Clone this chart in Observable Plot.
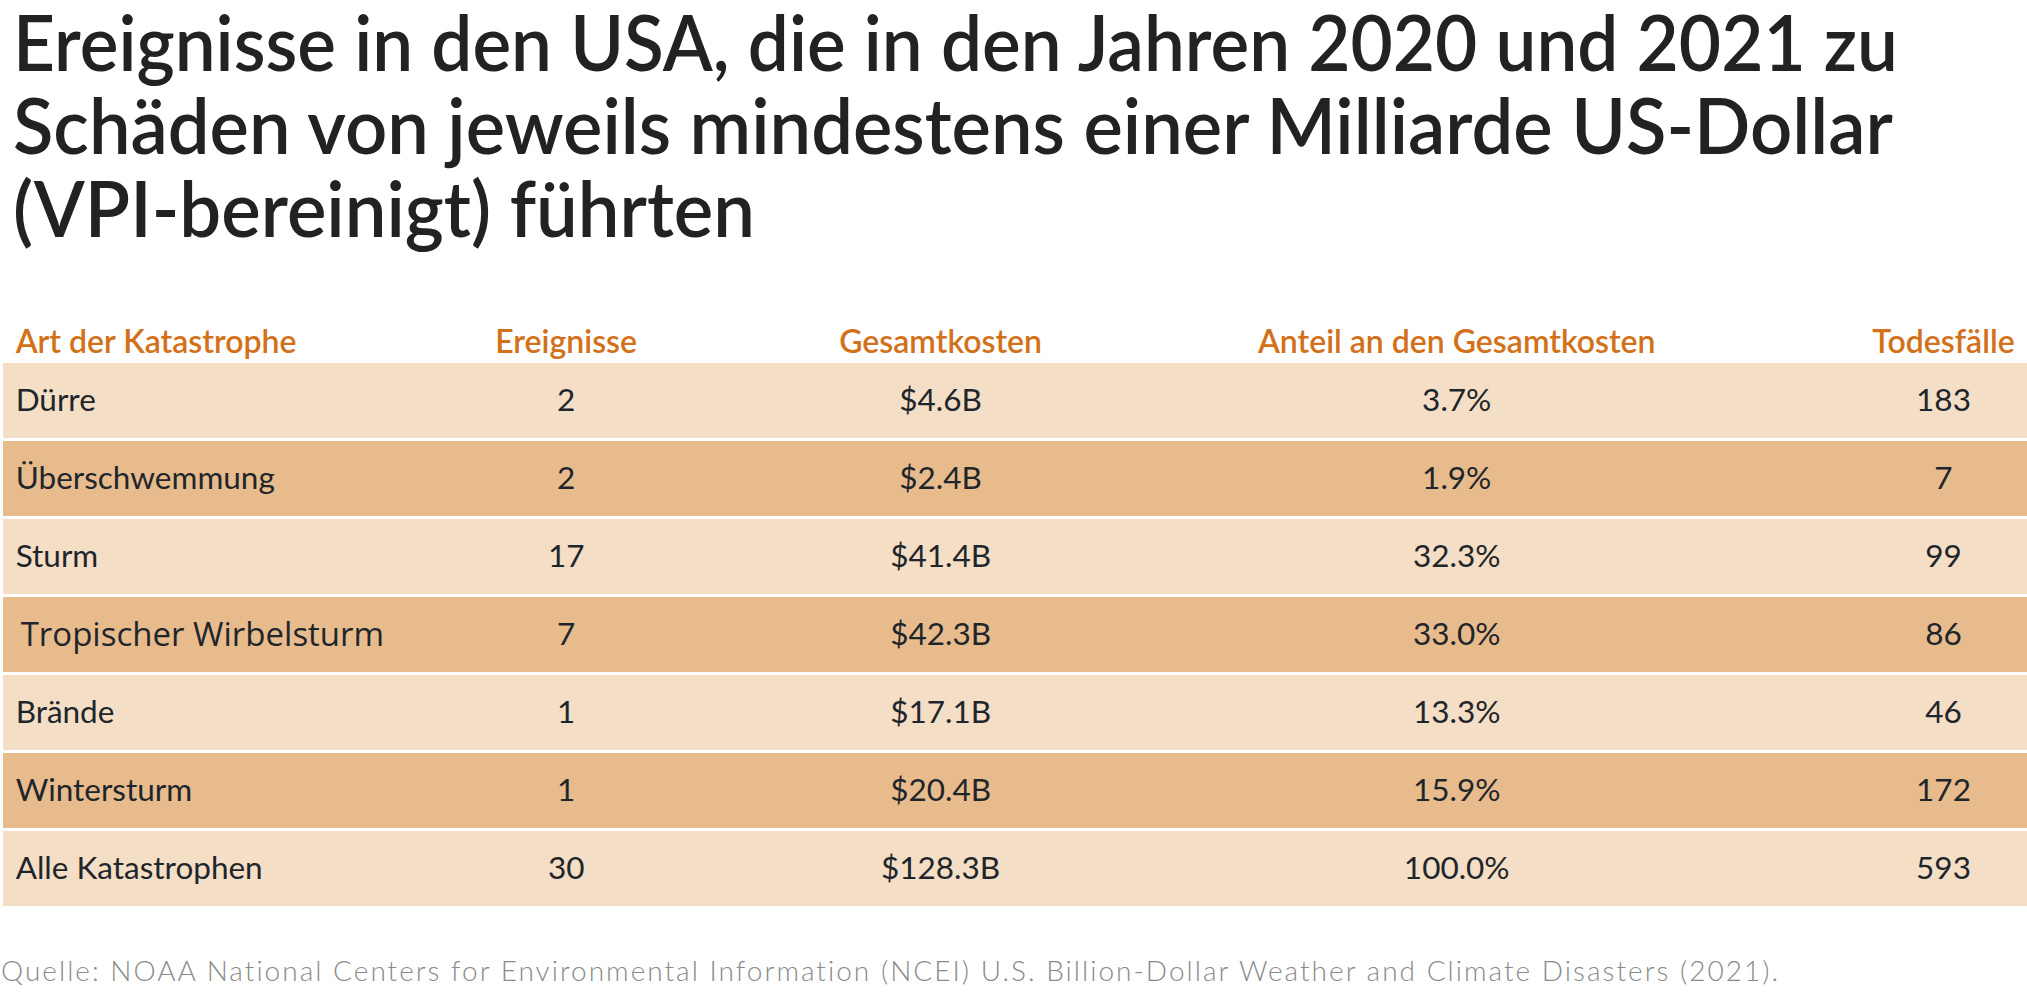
<!DOCTYPE html>
<html>
<head>
<meta charset="utf-8">
<script src="https://cdn.jsdelivr.net/npm/d3@7"></script>
<script src="https://cdn.jsdelivr.net/npm/@observablehq/plot@0.6"></script>
<style>
  html, body { margin: 0; padding: 0; background: #fff; width: 2027px; height: 994px; overflow: hidden; }
  #title { position: absolute; left: 13px; top: 0px; font-family: Lato, sans-serif; font-weight: 600;
           font-size: 76px; line-height: 83px; color: #222; }
  #title span { display: block; white-space: nowrap; width: max-content; transform-origin: 0 0; }
  #chart { position: absolute; left: 0; top: 300px; }
  #caption { position: absolute; left: 1px; top: 956px; font-family: Lato, sans-serif; font-weight: 300;
             font-size: 28px; line-height: 28px; color: #8a8a8a; white-space: nowrap; }
  g[aria-label="header"] text { letter-spacing: 1.3px; }
</style>
</head>
<body>
<div id="title">
  <span data-w="1885">Ereignisse in den USA, die in den Jahren 2020 und 2021 zu</span>
  <span data-w="1880">Schäden von jeweils mindestens einer Milliarde US-Dollar</span>
  <span data-w="742">(VPI-bereinigt) führten</span>
</div>
<div id="chart"></div>
<div id="caption" data-w="1780">Quelle: NOAA National Centers for Environmental Information (NCEI) U.S. Billion-Dollar Weather and Climate Disasters (2021).</div>
<script>
// ---- data ----
const headers = ["Art der Katastrophe", "Ereignisse", "Gesamtkosten", "Anteil an den Gesamtkosten", "Todesfälle"];
const categories = ["Dürre", "Überschwemmung", "Sturm", "Tropischer Wirbelsturm", "Brände", "Wintersturm", "Alle Katastrophen"];
const events = [2, 2, 17, 7, 1, 1, 30];
const costsB = [4.6, 2.4, 41.4, 42.3, 17.1, 20.4, 128.3];
const shares = [3.7, 1.9, 32.3, 33.0, 13.3, 15.9, 100.0];
const deaths = [183, 7, 99, 86, 46, 172, 593];

// ---- layout (column anchors in % of table width) ----
const colPos = [0.6, 27.8, 46.3, 71.8, 95.85];
const light = "#f4dec5", dark = "#e8bb8d", orange = "#d2711a", ink = "#1f262b";

const rows = categories.map((name, i) => ({
  name, i,
  cells: [name, String(events[i]), "$" + costsB[i].toFixed(1) + "B", shares[i].toFixed(1) + "%", String(deaths[i])]
}));
const cells = rows.flatMap(r => r.cells.map((t, c) => ({name: r.name, col: c, text: t})));
const special = "Tropischer Wirbelsturm";

const chart = Plot.plot({
  width: 2027, height: 620,
  marginTop: 63, marginBottom: 14, marginLeft: 0, marginRight: 0,
  x: {domain: [0, 100], range: [3, 2027], axis: null},
  y: {domain: categories, paddingInner: 0.04, paddingOuter: 0, axis: null},
  color: {type: "identity"},
  style: {fontFamily: "Lato, sans-serif", background: "transparent", overflow: "visible"},
  marks: [
    Plot.barX(rows, {y: "name", x1: 0, x2: 100, fill: d => d.i % 2 ? dark : light}),
    // header
    Plot.text(headers, {x: (d, i) => colPos[i], frameAnchor: "top", lineAnchor: "bottom", dy: -11, ariaLabel: "header",
      textAnchor: "start", filter: (d, i) => i === 0, fill: orange, fontSize: 32, fontWeight: 600}),
    Plot.text(headers, {x: (d, i) => colPos[i], frameAnchor: "top", lineAnchor: "bottom", dy: -11, ariaLabel: "header",
      textAnchor: "middle", filter: (d, i) => i > 0, fill: orange, fontSize: 32, fontWeight: 600}),
    // first column labels
    Plot.text(cells.filter(d => d.col === 0 && d.text !== special), {x: d => colPos[d.col], y: "name", text: "text",
      textAnchor: "start", fill: ink, fontSize: 31.5}),
    Plot.text(cells.filter(d => d.col === 0 && d.text === special), {x: d => colPos[d.col], y: "name", text: "text",
      textAnchor: "start", fill: ink, fontSize: 33, fontFamily: "Open Sans", dx: 5}),
    // values
    Plot.text(cells.filter(d => d.col > 0), {x: d => colPos[d.col], y: "name", text: "text",
      textAnchor: "middle", fill: ink, fontSize: 31.5})
  ]
});
document.getElementById("chart").appendChild(chart);

// fit title lines horizontally, caption by spacing
document.querySelectorAll("#title span").forEach(el => {
  const w = el.getBoundingClientRect().width;
  el.style.transform = "scaleX(" + (+el.dataset.w / w).toFixed(4) + ")";
});
(function (el) {
  const w = el.getBoundingClientRect().width;
  el.style.letterSpacing = ((+el.dataset.w - w) / el.textContent.length).toFixed(3) + "px";
})(document.getElementById("caption"));
</script>
</body>
</html>
